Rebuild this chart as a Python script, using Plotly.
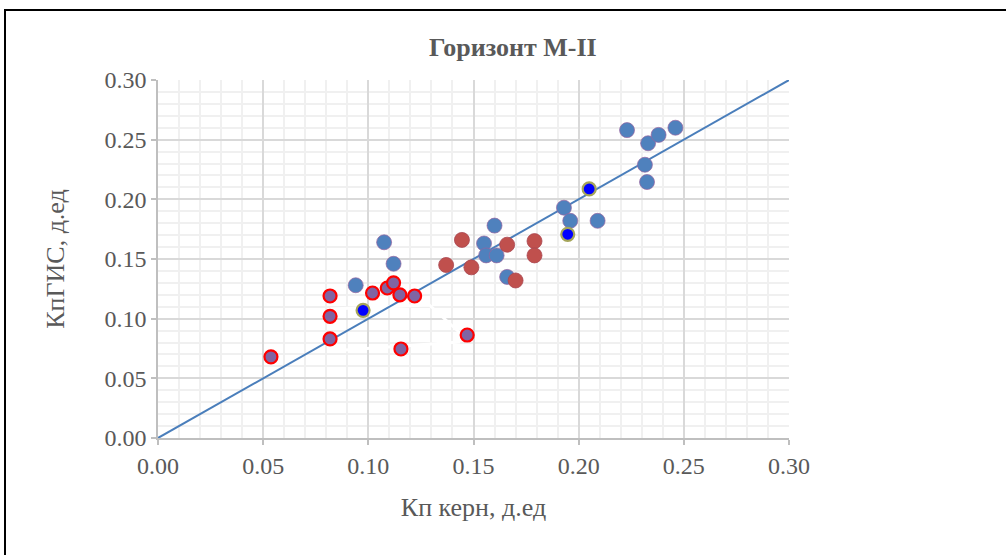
import plotly.graph_objects as go

# Blue points (основная выборка)
blue_x = [0.1075, 0.112, 0.094, 0.155, 0.160, 0.156, 0.161, 0.166, 0.193, 0.196, 0.209,
          0.223, 0.233, 0.238, 0.246, 0.2315, 0.2325]
blue_y = [0.164, 0.146, 0.128, 0.163, 0.178, 0.153, 0.153, 0.135, 0.193, 0.182, 0.182,
          0.258, 0.247, 0.254, 0.260, 0.229, 0.2145]

# Red points
red_x = [0.1445, 0.137, 0.149, 0.166, 0.170, 0.179, 0.179]
red_y = [0.166, 0.145, 0.143, 0.162, 0.132, 0.165, 0.153]

# Purple points with red outline
purple_x = [0.0537, 0.0818, 0.0818, 0.0818, 0.102, 0.109, 0.112, 0.115, 0.122, 0.1155, 0.147]
purple_y = [0.068, 0.119, 0.102, 0.083, 0.1215, 0.1257, 0.130, 0.120, 0.119, 0.0746, 0.0863]

# Bright blue points with olive outline
bright_x = [0.0975, 0.205, 0.1948]
bright_y = [0.107, 0.2087, 0.1707]

# 1:1 line
line_x = [0.0, 0.30]
line_y = [0.0, 0.30]

# faint white strokes
white1_x = [0.0818, 0.129, 0.1436]
white1_y = [0.108, 0.1115, 0.088]
white2_x = [0.089, 0.1436]
white2_y = [0.0737, 0.0805]

fig = go.Figure()
fig.add_trace(go.Scatter(x=white1_x, y=white1_y, mode="lines",
                         line=dict(color="white", width=3), hoverinfo="skip"))
fig.add_trace(go.Scatter(x=white2_x, y=white2_y, mode="lines",
                         line=dict(color="white", width=3), hoverinfo="skip"))
fig.add_trace(go.Scatter(x=line_x, y=line_y, mode="lines",
                         line=dict(color="#4A7EBB", width=2)))
fig.add_trace(go.Scatter(x=blue_x, y=blue_y, mode="markers",
                         marker=dict(size=15, color="#4F81BD",
                                     line=dict(color="rgba(150,100,160,0.7)", width=1))))
fig.add_trace(go.Scatter(x=red_x, y=red_y, mode="markers",
                         marker=dict(size=15, color="#C0504D",
                                     line=dict(color="rgba(170,70,80,0.8)", width=1))))
fig.add_trace(go.Scatter(x=purple_x, y=purple_y, mode="markers",
                         marker=dict(size=13, color="#8064A2",
                                     line=dict(color="#FF0000", width=2.2))))
fig.add_trace(go.Scatter(x=bright_x, y=bright_y, mode="markers",
                         marker=dict(size=13, color="#0000FF",
                                     line=dict(color="#A5A55A", width=2.2))))

font_family = "Liberation Serif, Times New Roman, serif"
axis_common = dict(
    range=[0, 0.30], dtick=0.05, tickformat=".2f",
    showgrid=True, gridcolor="#d9d9d9", gridwidth=1.5,
    minor=dict(dtick=0.01, showgrid=True, gridcolor="#f0f0f0", gridwidth=1.5),
    showline=True, linecolor="#bfbfbf", linewidth=1.5,
    ticks="outside", ticklen=5, tickcolor="#bfbfbf", tickwidth=1.5,
    zeroline=False,
    tickfont=dict(family=font_family, size=24, color="#595959"),
)

L, T, PW, PH = 158, 80, 631, 358
W, H = 1006, 555

fig.update_layout(
    width=W, height=H,
    margin=dict(l=L, r=W - L - PW, t=T, b=H - T - PH),
    paper_bgcolor="white", plot_bgcolor="white",
    showlegend=False,
    xaxis=dict(**axis_common,
               title=dict(text="Кп керн, д.ед", standoff=20,
                          font=dict(family=font_family, size=26, color="#595959"))),
    yaxis=dict(**axis_common,
               title=dict(text="КпГИС, д.ед", standoff=32,
                          font=dict(family=font_family, size=26, color="#595959"))),
    annotations=[dict(text="<b>Горизонт М-II</b>", xref="paper", yref="paper",
                      x=(513 - L) / PW, y=(T + PH - 47) / PH,
                      xanchor="center", yanchor="middle", showarrow=False,
                      font=dict(family=font_family, size=26, color="#595959"))],
    shapes=[dict(type="rect", xref="paper", yref="paper",
                 x0=(5 - L) / PW, x1=(1030 - L) / PW,
                 y0=(T + PH - 570) / PH, y1=(T + PH - 10) / PH,
                 line=dict(color="black", width=2), layer="above")],
)

fig.write_html("out.html",
               config={"displayModeBar": False},
               post_script="document.body.style.margin='0';document.body.style.overflow='hidden';")
